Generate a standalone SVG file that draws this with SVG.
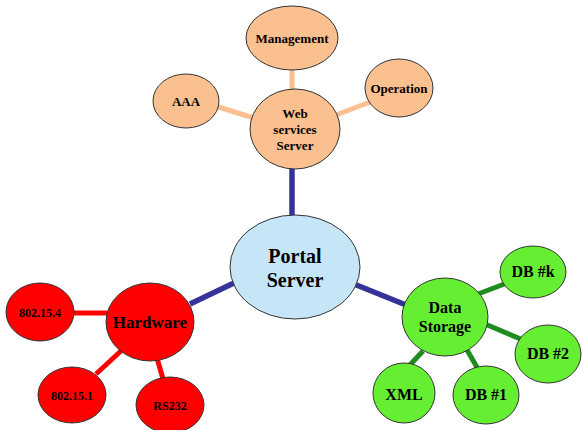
<svg xmlns="http://www.w3.org/2000/svg" width="582" height="430" viewBox="0 0 582 430">
<style>
text{font-family:"Liberation Serif","Times New Roman",serif;font-weight:bold;fill:#000;text-anchor:middle}
ellipse{stroke:#333;stroke-width:1}
.peach{fill:#FAC090}
.blue{fill:#C6E6F8}
.red{fill:#FF0000}
.green{fill:#66EE33}
.lb{stroke:#333399;stroke-width:5.5}
.lp{stroke:#FAC090;stroke-width:5}
.lr{stroke:#FF0000;stroke-width:5}
.lg{stroke:#1E8C1E;stroke-width:5}
</style>
<rect width="582" height="430" fill="#fff"/>
<g id="connectors">
<line class="lb" x1="292" y1="165" x2="292" y2="217"/>
<line class="lb" x1="190" y1="304" x2="236" y2="282"/>
<line class="lb" x1="354" y1="284" x2="406" y2="305"/>
<line class="lp" x1="292" y1="68" x2="292" y2="92"/>
<line class="lp" x1="215" y1="106" x2="254" y2="118"/>
<line class="lp" x1="336" y1="115" x2="370" y2="102"/>
<line class="lr" x1="72" y1="313" x2="108" y2="313"/>
<line class="lr" x1="96" y1="374" x2="122" y2="350"/>
<line class="lr" x1="157" y1="358" x2="163" y2="379"/>
<line class="lg" x1="478" y1="294" x2="507" y2="283"/>
<line class="lg" x1="485" y1="324" x2="523" y2="340"/>
<line class="lg" x1="467" y1="350" x2="478" y2="369"/>
<line class="lg" x1="423" y1="351" x2="407" y2="368"/>
</g>
<g id="management"><ellipse class="peach" cx="292" cy="38" rx="46" ry="32"/><text x="292" y="43" font-size="13">Management</text></g>
<g id="aaa"><ellipse class="peach" cx="186" cy="101" rx="33" ry="27"/><text x="186" y="106" font-size="13">AAA</text></g>
<g id="operation"><ellipse class="peach" cx="399" cy="88" rx="34" ry="29"/><text x="399" y="93" font-size="13">Operation</text></g>
<g id="webservices"><ellipse class="peach" cx="295" cy="129" rx="45" ry="40"/><text x="295" y="118" font-size="13">Web</text><text x="295" y="134" font-size="13">services</text><text x="295" y="150" font-size="13">Server</text></g>
<g id="portal"><ellipse class="blue" cx="295" cy="267" rx="65" ry="52"/><text x="295" y="263" font-size="20">Portal</text><text x="295" y="287" font-size="20">Server</text></g>
<g id="hardware"><ellipse class="red" cx="150" cy="322" rx="44" ry="39"/><text x="150" y="328" font-size="17">Hardware</text></g>
<g id="n802154"><ellipse class="red" cx="40" cy="312" rx="34" ry="29"/><text x="40" y="317" font-size="12">802.15.4</text></g>
<g id="n802151"><ellipse class="red" cx="72" cy="395" rx="34" ry="28"/><text x="72" y="400" font-size="12">802.15.1</text></g>
<g id="rs232"><ellipse class="red" cx="170" cy="405" rx="34" ry="28"/><text x="170" y="410" font-size="12">RS232</text></g>
<g id="datastorage"><ellipse class="green" cx="445" cy="317" rx="43" ry="39"/><text x="445" y="313" font-size="16">Data</text><text x="445" y="332" font-size="16">Storage</text></g>
<g id="dbk"><ellipse class="green" cx="533" cy="272" rx="33" ry="26"/><text x="533" y="277" font-size="16">DB #k</text></g>
<g id="db2"><ellipse class="green" cx="548" cy="354" rx="33" ry="29"/><text x="548" y="359" font-size="16">DB #2</text></g>
<g id="db1"><ellipse class="green" cx="486" cy="395" rx="33" ry="29"/><text x="486" y="400" font-size="16">DB #1</text></g>
<g id="xml"><ellipse class="green" cx="404" cy="393" rx="31" ry="30"/><text x="404" y="400" font-size="16">XML</text></g>
</svg>
